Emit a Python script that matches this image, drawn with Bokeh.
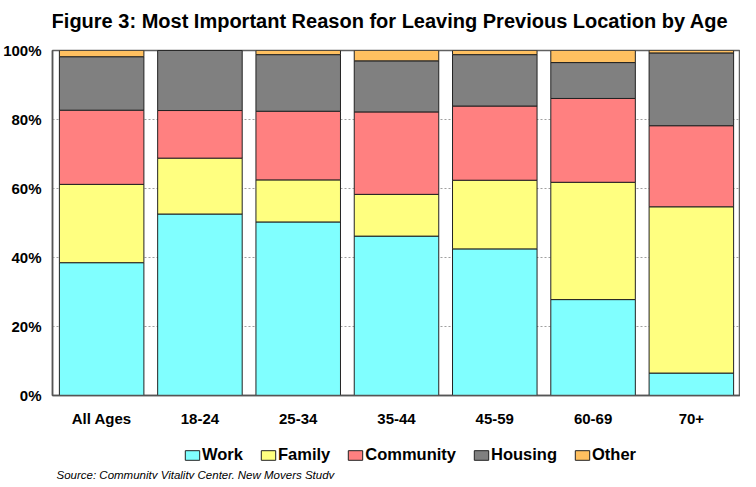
from bokeh.plotting import figure
from bokeh.layouts import column
from bokeh.models import (ColumnDataSource, FactorRange, Range1d, Legend, LegendItem,
                          FixedTicker, PrintfTickFormatter, Label)
from bokeh.embed import file_html
from bokeh.resources import INLINE

categories = ["All Ages", "18-24", "25-34", "35-44", "45-59", "60-69", "70+"]
work = [38.5, 52.6, 50.3, 46.2, 42.5, 27.8, 6.5]
family = [22.7, 16.2, 12.2, 12.1, 19.9, 34.0, 48.2]
community = [21.5, 13.8, 19.9, 23.9, 21.5, 24.3, 23.5]
housing = [15.5, 17.4, 16.4, 14.8, 14.9, 10.4, 21.1]
other = [1.8, 0.0, 1.2, 3.0, 1.2, 3.5, 0.7]
series = ["Work", "Family", "Community", "Housing", "Other"]
colors = ["#80FFFF", "#FFFF80", "#FF8080", "#808080", "#FFC060"]
y_ticks = [0, 20, 40, 60, 80, 100]

FONT = "Liberation Sans"
W = 740

source = ColumnDataSource(dict(cat=categories, Work=work, Family=family,
                               Community=community, Housing=housing, Other=other))
x_range = FactorRange(*categories, range_padding=0)


def strip(height):
    f = figure(width=W, height=height, x_range=x_range, y_range=Range1d(0, 1),
               output_backend="svg", toolbar_location=None, min_border=0,
               min_border_left=52, min_border_right=0)
    f.axis.visible = False
    f.grid.visible = False
    f.outline_line_color = None
    f.background_fill_color = "white"
    f.border_fill_color = "white"
    return f


# ---- title strip ----
t = strip(40)
t.add_layout(Label(x=337.5, y=20, x_units="screen", y_units="screen",
                   text="Figure 3: Most Important Reason for Leaving Previous Location by Age",
                   text_font=FONT, text_font_size="20px", text_font_style="bold",
                   text_align="center", text_baseline="alphabetic", text_color="#000000"))

# ---- main chart ----
p = figure(width=W, height=389, x_range=x_range,
           y_range=Range1d(0, 100), output_backend="svg", toolbar_location=None,
           min_border_left=52, min_border_right=0, min_border_top=10, min_border_bottom=32)
p.title = None

renderers = p.vbar_stack(series, x="cat", width=0.86, source=source, color=colors,
                         line_color="#222222", line_width=1)

p.yaxis.ticker = FixedTicker(ticks=y_ticks)
p.yaxis.formatter = PrintfTickFormatter(format="%d%%")
for ax in (p.xaxis, p.yaxis):
    ax.major_tick_line_color = None
    ax.minor_tick_line_color = None
    ax.major_tick_out = 0
    ax.major_tick_in = 0
    ax.minor_tick_out = 0
    ax.axis_line_color = "#555555"
    ax.axis_line_width = 1.5
    ax.major_label_text_font = FONT
    ax.major_label_text_font_style = "bold"
    ax.major_label_text_color = "#000000"
p.yaxis.major_label_text_font_size = "15px"
p.xaxis.major_label_text_font_size = "15px"
p.yaxis.major_label_standoff = 11
p.xaxis.major_label_standoff = 14

p.xgrid.grid_line_color = None
p.ygrid.ticker = FixedTicker(ticks=[20, 40, 60, 80])
p.ygrid.grid_line_color = "#A0A0A0"
p.ygrid.grid_line_dash = "2 2"
p.ygrid.grid_line_width = 1

p.outline_line_color = "#606060"
p.outline_line_width = 1.5
p.background_fill_color = "white"
p.border_fill_color = "white"

# ---- legend + source strip ----
q = strip(50)
# hidden copies of the stacked bars, used only as legend swatches
legend_rs = q.vbar_stack(series, x="cat", width=0.86, source=source, color=colors,
                         line_color="#222222", line_width=1)
for r in legend_rs:
    r.visible = False

items = [LegendItem(label=s, renderers=[r]) for s, r in zip(series, legend_rs)]
legend = Legend(items=items, orientation="horizontal", location=(131, 15),
                glyph_width=18, glyph_height=12, label_standoff=1, spacing=16,
                padding=0, margin=0, border_line_color=None, background_fill_alpha=0,
                inactive_fill_alpha=0, click_policy="none",
                label_text_font=FONT, label_text_font_size="16.5px",
                label_text_font_style="bold", label_text_color="#000000")
q.add_layout(legend)

q.add_layout(Label(x=4, y=5, x_units="screen", y_units="screen",
                   text="Source: Community Vitality Center, New Movers Study",
                   text_font=FONT, text_font_size="11.5px", text_font_style="italic",
                   text_align="left", text_baseline="alphabetic", text_color="#000000"))

layout = column(t, p, q, spacing=0)
open("out.html", "w").write(file_html(layout, INLINE))
